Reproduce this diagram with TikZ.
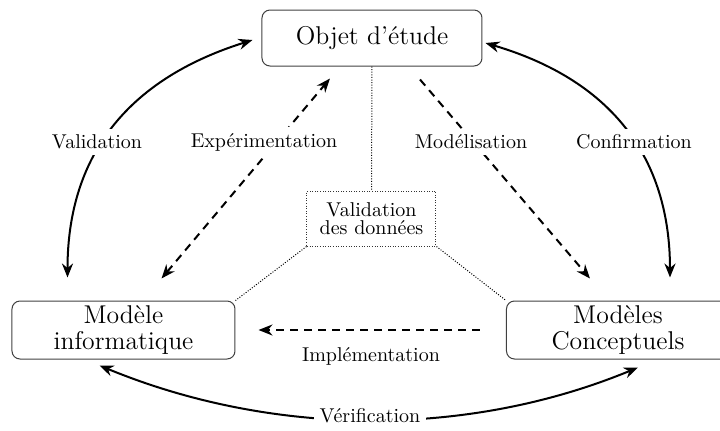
\documentclass[tikz,border=0pt]{standalone}
\usetikzlibrary{arrows.meta,calc}
\begin{document}
\begin{tikzpicture}[x=0.5pt,y=-0.5pt,
  box/.style={draw=black!75, line width=0.5pt, rounded corners=4pt, align=center,
    font=\fontsize{12.85}{13}\selectfont, inner sep=0pt},
  dbox/.style={draw=black!80, line width=0.5pt, dash pattern=on 0.5pt off 0.8pt, align=center,
    font=\fontsize{10}{9}\selectfont, inner sep=0pt, minimum width=64.5pt, minimum height=27.5pt},
  lbl/.style={font=\fontsize{10}{12}\selectfont, fill=white, inner sep=3pt},
  tip/.tip={Stealth[length=7pt,width=5.5pt]},
  solidarrow/.style={line width=1pt, {tip}-{tip}},
  dasharrow/.style={line width=1pt, dash pattern=on 4pt off 3pt},
  dotline/.style={line width=0.5pt, dash pattern=on 0.5pt off 0.8pt}]
\useasboundingbox (0,0) rectangle (720,430);

% nodes
\node[box, minimum width=110pt, minimum height=28pt] (obj) at (372,38) {Objet d'étude};
\node[box, minimum width=111.5pt, minimum height=29pt] (mi) at (123.5,330) {Modèle\\informatique};
\node[box, minimum width=111.5pt, minimum height=29pt] (mc) at (618,330) {Modèles\\Conceptuels};
\node[dbox] (vd) at (371.5,218.5) {Validation\\des données};

% dotted links
\draw[dotline] (obj.south) -- (vd.north);
\draw[dotline] (vd.south west) -- (mi.north east);
\draw[dotline] (vd.south east) -- (mc.north west);

% solid curved arrows
\draw[solidarrow] ($(mi.north)+(-56,-23)$) .. controls +(0,-103) and +(-143,45) .. ($(obj.west)+(-9,2)$);
\draw[solidarrow] ($(obj.east)+(3,5)$) .. controls +(142,42) and +(0,-103) .. ($(mc.north)+(52,-23)$);
\draw[solidarrow] ($(mi.south)+(-24,6)$) .. controls +(172,71) and +(-172,71) .. ($(mc.south)+(20,8)$);

% dashed arrows
\draw[dasharrow, {tip}-{tip}] ($(mi.north)+(38,-22)$) -- ($(obj.south)+(-42,12)$);
\draw[dasharrow, -{tip}] ($(obj.south)+(48,13)$) -- ($(mc.north)+(-28,-22)$);
\draw[dasharrow, -{tip}] ($(mc.west)+(-26,0)$) -- ($(mi.east)+(23,0)$);

% labels
\node[lbl] (lval) at (97,142) {Validation};
\node[lbl] (lexp) at (264,142) {Expérimentation};
\node[lbl] (lmod) at (471,142) {Modélisation};
\node[lbl] (lconf) at (634,142) {Confirmation};
\node[lbl] (limp) at (371,356) {Implémentation};
\node[lbl] (lver) at (370,416) {Vérification};
\end{tikzpicture}
\end{document}
